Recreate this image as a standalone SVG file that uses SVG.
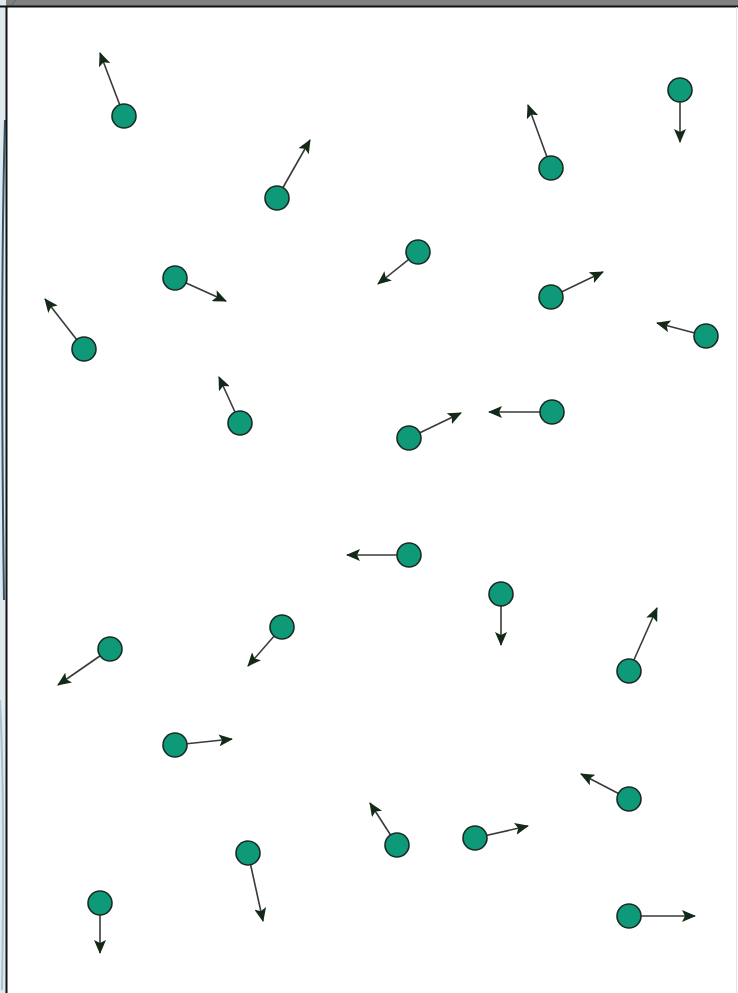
<svg xmlns="http://www.w3.org/2000/svg" width="738" height="993" viewBox="0 0 738 993">
<defs>
<style>
.p{fill:#0e9a78;stroke:#1b2a22;stroke-width:1.6}
.v{stroke:#3a3a3a;stroke-width:1.6;fill:none}
</style>
<marker id="ah" markerUnits="userSpaceOnUse" markerWidth="14" markerHeight="12" viewBox="0 0 14 12" refX="13" refY="6" orient="auto">
<path d="M0,0 L14,6 L0,12 L3,6 Z" fill="#142a18"/>
</marker>
</defs>
<rect x="0" y="0" width="738" height="993" fill="#ffffff"/>
<rect x="0" y="0" width="738" height="6" fill="#808080"/>
<rect x="0" y="0" width="6" height="993" fill="#dfe9ee"/>
<path d="M16,0 Q12,3 12,6" stroke="#4a6a86" stroke-width="1" fill="none"/>
<path d="M5,120 Q0,300 4,600" stroke="#36566e" stroke-width="2" fill="none"/>
<path d="M0,700 Q5,800 2,990" stroke="#a9c3cf" stroke-width="2" fill="none"/>
<line x1="0" y1="6.5" x2="738" y2="6.5" stroke="#111" stroke-width="2"/>
<line x1="6.5" y1="6" x2="6.5" y2="993" stroke="#111" stroke-width="2"/>
<line x1="736.5" y1="7" x2="736.5" y2="993" stroke="#e6e6e6" stroke-width="1"/>
<g id="connectors">
<line class="v" x1="124" y1="116" x2="100" y2="53" marker-end="url(#ah)"/>
<line class="v" x1="277" y1="198" x2="310" y2="140" marker-end="url(#ah)"/>
<line class="v" x1="551" y1="168" x2="528" y2="105" marker-end="url(#ah)"/>
<line class="v" x1="680" y1="90" x2="680" y2="142" marker-end="url(#ah)"/>
<line class="v" x1="418" y1="252" x2="378" y2="284" marker-end="url(#ah)"/>
<line class="v" x1="175" y1="278" x2="226" y2="301" marker-end="url(#ah)"/>
<line class="v" x1="551" y1="297" x2="603" y2="272" marker-end="url(#ah)"/>
<line class="v" x1="84" y1="349" x2="45" y2="299" marker-end="url(#ah)"/>
<line class="v" x1="706" y1="336" x2="657" y2="323" marker-end="url(#ah)"/>
<line class="v" x1="240" y1="423" x2="219" y2="377" marker-end="url(#ah)"/>
<line class="v" x1="409" y1="438" x2="461" y2="413" marker-end="url(#ah)"/>
<line class="v" x1="552" y1="412" x2="489" y2="412" marker-end="url(#ah)"/>
<line class="v" x1="409" y1="555" x2="347" y2="555" marker-end="url(#ah)"/>
<line class="v" x1="501" y1="594" x2="501" y2="645" marker-end="url(#ah)"/>
<line class="v" x1="629" y1="671" x2="657" y2="608" marker-end="url(#ah)"/>
<line class="v" x1="110" y1="649" x2="58" y2="685" marker-end="url(#ah)"/>
<line class="v" x1="282" y1="627" x2="248" y2="666" marker-end="url(#ah)"/>
<line class="v" x1="175" y1="745" x2="232" y2="739" marker-end="url(#ah)"/>
<line class="v" x1="629" y1="799" x2="581" y2="774" marker-end="url(#ah)"/>
<line class="v" x1="397" y1="845" x2="370" y2="803" marker-end="url(#ah)"/>
<line class="v" x1="475" y1="838" x2="528" y2="826" marker-end="url(#ah)"/>
<line class="v" x1="248" y1="853" x2="263" y2="921" marker-end="url(#ah)"/>
<line class="v" x1="100" y1="903" x2="100" y2="953" marker-end="url(#ah)" stroke="#8a8a8a"/>
<line class="v" x1="629" y1="916" x2="695" y2="916" marker-end="url(#ah)"/>
</g>
<g id="p1"><circle class="p" cx="124" cy="116" r="12"/></g>
<g id="p2"><circle class="p" cx="277" cy="198" r="12"/></g>
<g id="p3"><circle class="p" cx="551" cy="168" r="12"/></g>
<g id="p4"><circle class="p" cx="680" cy="90" r="12"/></g>
<g id="p5"><circle class="p" cx="418" cy="252" r="12"/></g>
<g id="p6"><circle class="p" cx="175" cy="278" r="12"/></g>
<g id="p7"><circle class="p" cx="551" cy="297" r="12"/></g>
<g id="p8"><circle class="p" cx="84" cy="349" r="12"/></g>
<g id="p9"><circle class="p" cx="706" cy="336" r="12"/></g>
<g id="p10"><circle class="p" cx="240" cy="423" r="12"/></g>
<g id="p11"><circle class="p" cx="409" cy="438" r="12"/></g>
<g id="p12"><circle class="p" cx="552" cy="412" r="12"/></g>
<g id="p13"><circle class="p" cx="409" cy="555" r="12"/></g>
<g id="p14"><circle class="p" cx="501" cy="594" r="12"/></g>
<g id="p15"><circle class="p" cx="629" cy="671" r="12"/></g>
<g id="p16"><circle class="p" cx="110" cy="649" r="12"/></g>
<g id="p17"><circle class="p" cx="282" cy="627" r="12"/></g>
<g id="p18"><circle class="p" cx="175" cy="745" r="12"/></g>
<g id="p19"><circle class="p" cx="629" cy="799" r="12"/></g>
<g id="p20"><circle class="p" cx="397" cy="845" r="12"/></g>
<g id="p21"><circle class="p" cx="475" cy="838" r="12"/></g>
<g id="p22"><circle class="p" cx="248" cy="853" r="12"/></g>
<g id="p23"><circle class="p" cx="100" cy="903" r="12"/></g>
<g id="p24"><circle class="p" cx="629" cy="916" r="12"/></g>
</svg>
